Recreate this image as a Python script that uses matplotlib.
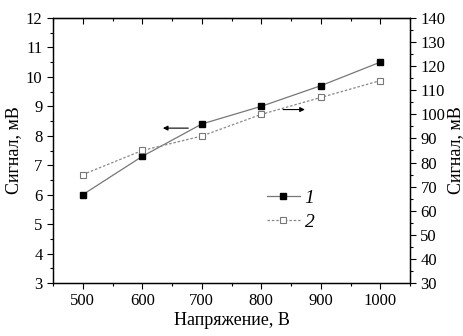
import matplotlib
matplotlib.use("Agg")
import matplotlib.pyplot as plt
from matplotlib.ticker import MultipleLocator

# voltage, V
voltage = [500, 600, 700, 800, 900, 1000]
# curve 1, left axis (mV)
signal_1 = [6.0, 7.3, 8.4, 9.0, 9.7, 10.5]
# curve 2, right axis (mV)
signal_2 = [75, 85, 91, 100, 107, 114]

plt.rcParams['font.family'] = ['Liberation Serif', 'DejaVu Serif']
plt.rcParams['font.size'] = 12

fig = plt.figure(figsize=(4.64, 3.36), dpi=100)
ax = fig.add_axes([53/464, 1-283/336, 357/464, 265/336])
ax2 = ax.twinx()

l1, = ax.plot(voltage, signal_1, color='#777777', lw=0.9, marker='s', ms=5,
              mfc='black', mec='black', label='1')
l2, = ax2.plot(voltage, signal_2, color='#888888', lw=0.9, ls=(0, (2, 1.5)),
               marker='s', ms=4, mfc='white', mec='#777777', mew=0.8, label='2')

ax.set_xlim(450, 1050)
ax.set_ylim(3, 12)
ax2.set_ylim(30, 140)

ax.xaxis.set_major_locator(MultipleLocator(100))
ax.xaxis.set_minor_locator(MultipleLocator(50))
ax.yaxis.set_major_locator(MultipleLocator(1))
ax.yaxis.set_minor_locator(MultipleLocator(0.5))
ax2.yaxis.set_major_locator(MultipleLocator(10))
ax2.yaxis.set_minor_locator(MultipleLocator(5))

# left/bottom/right ticks outward, top ticks inward
ax.tick_params(which='both', direction='out', width=0.8)
ax.tick_params(which='major', length=4)
ax.tick_params(which='minor', length=2.5)
ax2.tick_params(which='both', direction='out', width=0.8)
ax2.tick_params(which='major', length=4)
ax2.tick_params(which='minor', length=2.5)

sec = ax.secondary_xaxis('top')
sec.xaxis.set_major_locator(MultipleLocator(100))
sec.xaxis.set_minor_locator(MultipleLocator(50))
sec.tick_params(which='both', direction='in', width=0.8, labeltop=False)
sec.tick_params(which='major', length=4)
sec.tick_params(which='minor', length=2.5)

for a in (ax, ax2):
    for s in a.spines.values():
        s.set_linewidth(0.9)

ax.set_xlabel('Напряжение, В', fontsize=13, labelpad=2)
ax.set_ylabel('Сигнал, мВ', fontsize=13, labelpad=3)
ax2.set_ylabel('Сигнал, мВ', fontsize=13, labelpad=1)

# arrows pointing at the axis each curve belongs to
ax.annotate('', xy=(630, 8.26), xytext=(682, 8.26),
            arrowprops=dict(arrowstyle='-|>', color='black', lw=0.8,
                            mutation_scale=7))
ax2.annotate('', xy=(878, 102), xytext=(832, 102),
             arrowprops=dict(arrowstyle='-|>', color='black', lw=0.8,
                             mutation_scale=7))

leg = ax.legend(handles=[l1, l2], loc='upper left',
                bbox_to_anchor=(0.55, 0.42), frameon=False,
                handlelength=1.7, labelspacing=0.35, handletextpad=0.25,
                prop={'style': 'italic', 'size': 14})

fig.savefig('out.png', dpi=100)
